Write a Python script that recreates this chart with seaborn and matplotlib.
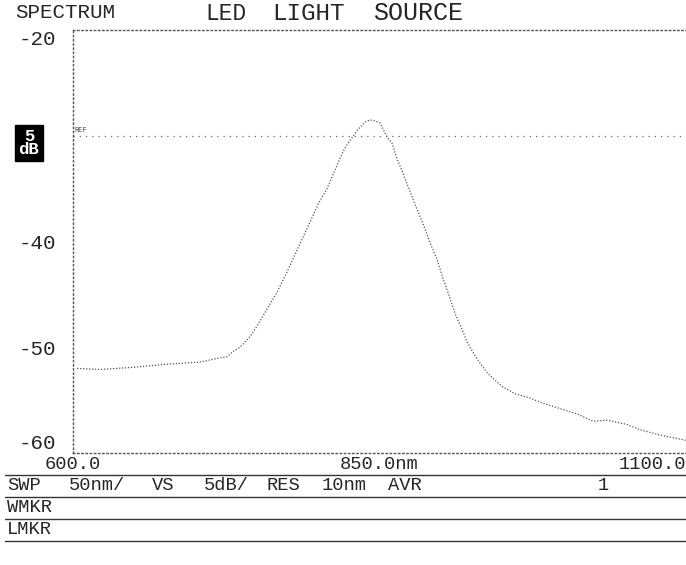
import matplotlib
matplotlib.use("Agg")
import matplotlib.pyplot as plt
import seaborn as sns
import pandas as pd
from matplotlib.lines import Line2D

# Spectrum trace (wavelength in nm, level in dB)
wavelength = [603.3, 622.0, 648.9, 676.7, 703.6, 719.9, 725.6, 730.5, 736.2,
              743.6, 750.1, 758.2, 766.4, 774.5, 783.5, 791.6, 799.8, 807.2,
              815.3, 820.2, 824.3, 832.5, 838.2, 842.3, 846.3, 850.4, 856.1,
              860.2, 864.3, 868.4, 871.6, 879.0, 884.7, 891.2, 896.9, 901.0,
              906.7, 911.6, 917.3, 921.4, 927.9, 932.0, 938.5, 949.9, 960.5,
              972.8, 980.9, 997.2, 1011.1, 1024.2, 1035.6, 1051.9, 1062.5,
              1078.8, 1100.0]
level = [-52.0, -52.1, -51.9, -51.6, -51.4, -51.0, -50.9, -50.4, -50.0,
         -49.1, -48.0, -46.4, -44.8, -42.9, -40.6, -38.6, -36.5, -35.0,
         -32.8, -31.5, -30.7, -29.4, -28.7, -28.5, -28.6, -28.8, -30.1,
         -30.7, -32.2, -33.3, -34.3, -36.5, -38.1, -40.1, -41.7, -43.2,
         -45.1, -46.8, -48.3, -49.5, -50.8, -51.5, -52.5, -53.7, -54.4,
         -54.8, -55.2, -55.8, -56.3, -57.0, -56.9, -57.3, -57.8, -58.3,
         -58.8]

x_ticks = [600, 850, 1100]
x_tick_labels = ["600.0", "850.0nm", "1100.0"]
y_ticks = [-20, -40, -50, -60]
y_tick_labels = ["-20", "-40", "-50", "-60"]
ref_level = -30

title_words = ["SPECTRUM", "LED", "LIGHT", "SOURCE"]
sweep_tokens = ["SWP", "50nm/", "VS", "5dB/", "RES", "10nm", "AVR", "1"]
marker_rows = ["WMKR", "LMKR"]

df = pd.DataFrame({"nm": wavelength, "dB": level})

sns.set_style("white")
plt.rcParams["font.family"] = ["Liberation Mono", "DejaVu Sans Mono"]

W, H = 686, 565
fig = plt.figure(figsize=(W / 100, H / 100), dpi=100)
ax = fig.add_axes([73 / W, 1 - 453 / H, 613 / W, (453 - 30) / H])

sns.lineplot(data=df, x="nm", y="dB", ax=ax, color="#555555", lw=0.9,
             linestyle=(0, (1, 1.4)))

# reference level line
ax.axhline(ref_level, color="#666666", lw=0.9, linestyle=(0, (1, 4)))
ax.text(601, ref_level + 0.2, "REF", fontsize=5, color="#444444",
        va="bottom", ha="left")

ax.set_xlim(600, 1100)
ax.set_ylim(-60, -20)
ax.set_xlabel("")
ax.set_ylabel("")

ax.set_xticks(x_ticks)
ax.set_xticklabels(x_tick_labels, fontsize=13.5)
xl = ax.get_xticklabels()
xl[0].set_horizontalalignment("center")
xl[2].set_horizontalalignment("right")
ax.set_yticks(y_ticks)
ax.set_yticklabels(y_tick_labels, fontsize=15)
yl = ax.get_yticklabels()
yl[0].set_verticalalignment("top")
yl[3].set_verticalalignment("bottom")
ax.tick_params(axis="both", length=0)
ax.tick_params(axis="x", pad=2)
ax.tick_params(axis="y", pad=12)

for side in ["left", "top", "bottom"]:
    ax.spines[side].set_linestyle((0, (1, 2)))
    ax.spines[side].set_color("#555555")
    ax.spines[side].set_linewidth(1.0)
ax.spines["right"].set_visible(False)

# reversed scale marker
fig.text(29 / W, 1 - 143 / H, "5\ndB", fontsize=12.5, fontweight="bold",
         color="white", ha="center", va="center", linespacing=0.85,
         bbox=dict(facecolor="black", edgecolor="black", pad=2.5))

# title
title_x = [15, 205, 272, 373]
title_sizes = [15, 16.5, 17.5, 18]
for word, x, fs in zip(title_words, title_x, title_sizes):
    fig.text(x / W, 1 - 13 / H, word, fontsize=fs, ha="left", va="center")

# parameter table under the plot
for py in [475, 497, 519, 541]:
    fig.add_artist(Line2D([5 / W, 1.0], [1 - py / H] * 2, color="#333333",
                          lw=1.0, transform=fig.transFigure))

sweep_x = [7, 69, 152, 204, 267, 322, 388, 598]
for tok, x in zip(sweep_tokens, sweep_x):
    fig.text(x / W, 1 - 486 / H, tok, fontsize=13.5, ha="left", va="center")

for row, py in zip(marker_rows, [508, 530]):
    fig.text(7 / W, 1 - py / H, row, fontsize=13.5, ha="left", va="center")

fig.savefig("out.png", dpi=100)
